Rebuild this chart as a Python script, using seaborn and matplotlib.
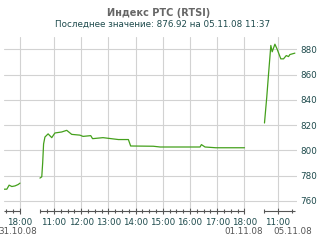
import numpy as np
import pandas as pd
import matplotlib
matplotlib.use("Agg")
import matplotlib.pyplot as plt
import matplotlib.transforms as mtransforms
import seaborn as sns

# ---- data ----
day1_times = ["17:25", "17:31", "17:36", "17:42", "17:49", "17:56", "18:00"]
day1_values = [769.2, 769.2, 772.4, 771.3, 771.8, 772.9, 774.0]

day2_times = ["10:29", "10:33", "10:35", "10:37", "10:40", "10:47", "10:55", "11:02",
              "11:17", "11:28", "11:39", "11:57", "12:04", "12:21", "12:25", "12:48",
              "13:22", "13:44", "13:49", "14:39", "14:54", "16:22", "16:25", "16:33",
              "16:57", "18:00"]
day2_values = [778.0, 779.0, 790.0, 805.0, 810.5, 813.0, 810.0, 813.7,
               814.5, 815.8, 812.6, 812.0, 811.0, 811.6, 809.2, 810.0,
               808.5, 808.5, 803.4, 803.2, 802.6, 802.6, 804.5, 802.6,
               802.0, 802.0]

day3_times = ["10:30", "10:35", "10:39", "10:44", "10:47", "10:53", "10:58", "11:06",
              "11:12", "11:18", "11:23", "11:26", "11:37"]
day3_values = [821.6, 842.0, 860.6, 883.0, 878.0, 884.0, 880.0, 872.4,
               872.4, 875.0, 874.2, 875.8, 876.92]

dates = ["31.10.08", "01.11.08", "05.11.08"]
y_ticks = [760, 780, 800, 820, 840, 860, 880]
title = "Индекс РТС (RTSI)"
subtitle = "Последнее значение: 876.92 на 05.11.08 11:37"

# compressed time axis: offset (hours) subtracted for each session
offsets = [18.0, 9.75, 1.515]
sessions = [(day1_times, day1_values), (day2_times, day2_values), (day3_times, day3_values)]


def hours(s):
    h, m = s.split(":")
    return int(h) + int(m) / 60.0


rows = []
for i, (ts, vs) in enumerate(sessions):
    for t, v in zip(ts, vs):
        rows.append({"pos": hours(t) - offsets[i], "value": v, "session": i})
df = pd.DataFrame(rows)

# axis segments and ticks per session
seg_ranges = [("17:25", "18:00"), ("10:30", "18:00"), ("10:30", "11:37")]
major_hours = [[18], list(range(11, 19)), [11]]
minor_step = [0.25, 0.25, 0.5]

sns.set_theme(style="white")
plt.rcParams["font.family"] = ["DejaVu Sans"]

fig = plt.figure(figsize=(3.2, 2.4), dpi=100)
ax = fig.add_axes([4 / 320, 1 - 208 / 240, 293 / 320, 171 / 240])

label_color = "#1d4a4c"
grid_color = "#d2d2d2"

sns.lineplot(data=df, x="pos", y="value", units="session", estimator=None,
             color="#44a01c", linewidth=0.9, ax=ax, legend=False)

ax.set_xlim(-0.588, 10.18)
ax.set_ylim(754.3, 889.7)

majors, major_labels, minors = [], [], []
for i, (a, b) in enumerate(seg_ranges):
    for h in major_hours[i]:
        majors.append(h - offsets[i])
        major_labels.append(f"{h}:00")
    t = np.ceil(hours(a) / minor_step[i]) * minor_step[i]
    while t <= hours(b) + 1e-9:
        if abs(t - round(t)) > 1e-6 or round(t) not in major_hours[i]:
            minors.append(t - offsets[i])
        t += minor_step[i]
    ax.hlines(-0.017, max(hours(a) - offsets[i], -0.588), hours(b) - offsets[i],
              transform=ax.get_xaxis_transform(), color="#555555", lw=0.8, clip_on=False)

ax.set_xticks(majors)
ax.set_xticklabels(major_labels)
ax.set_xticks(minors, minor=True)
ax.set_yticks(y_ticks)
ax.yaxis.tick_right()

for s in ax.spines.values():
    s.set_visible(False)
ax.spines["bottom"].set_position(("outward", 2.1))

ax.tick_params(axis="x", which="major", direction="inout", length=4, width=0.8,
               color="#555555", bottom=True, labelsize=6.3, labelcolor=label_color, pad=3)
ax.tick_params(axis="x", which="minor", direction="inout", length=2.5, width=0.8,
               color="#555555", bottom=True)
ax.tick_params(axis="y", length=0, labelsize=6.3, labelcolor=label_color, pad=2.5)

ax.grid(True, axis="both", which="major", color=grid_color, lw=0.8)
ax.set_xlabel("")
ax.set_ylabel("")

# date labels
date_x = [18 / 320, 243.5 / 320, 292.5 / 320]
for d, xx in zip(dates, date_x):
    fig.text(xx, 1 - 232 / 240, d, ha="center", va="center", fontsize=6.3, color="#555555")

fig.text(159 / 320, 1 - 13.5 / 240, title, ha="center", va="center", fontsize=7,
         fontweight="bold", color="#666666")
fig.text(163 / 320, 1 - 24.5 / 240, subtitle, ha="center", va="center", fontsize=6.3,
         color=label_color)

fig.savefig("out.png", dpi=100, facecolor="white")
